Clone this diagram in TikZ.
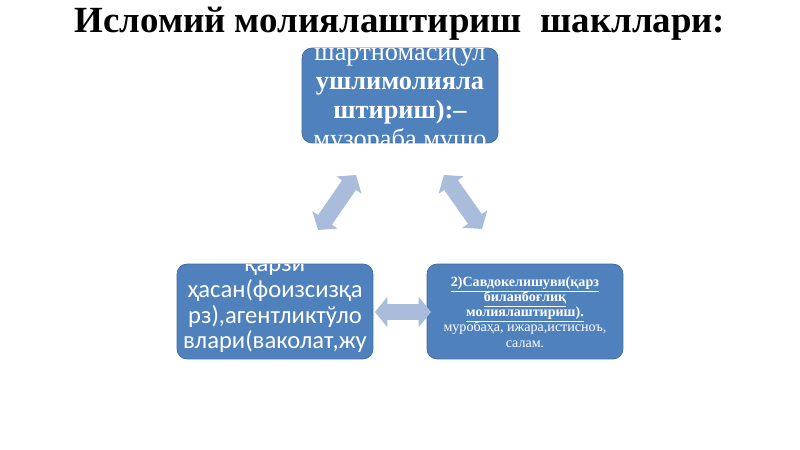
\documentclass[tikz,border=0pt]{standalone}
\usepackage{fontspec}
\setmainfont{Liberation Serif}
\newfontfamily\calibri{Carlito}
\usepackage{tikz}
\usetikzlibrary{arrows.meta,positioning}
\definecolor{kasten}{HTML}{4F81BD}
\definecolor{kastenrand}{HTML}{41699A}
\definecolor{pfeilfarbe}{HTML}{A9BCDC}

\begin{document}
\begin{tikzpicture}[x=0.02cm,y=-0.02cm,
    kastenstil/.style={draw=kastenrand,fill=kasten,rounded corners=0.2cm,
      minimum width=3.92cm,minimum height=1.9cm,inner sep=0pt},
    zeile/.style={text=white,anchor=base,inner sep=0pt},
    pfeil/.style={pfeilfarbe,line width=9.6pt,
      {Triangle[width=17pt,length=7pt]}-{Triangle[width=17pt,length=7pt]}}]
    \useasboundingbox (0,0) rectangle (800,449);

    % Ueberschrift
    \node[anchor=base,font=\fontsize{21}{24}\selectfont\bfseries] (titel) at (400,33)
      {Исломий молиялаштириш\ \ шакллари:};

    % Kaesten
    \node[kastenstil] (oben) at (400,95.5) {};
    \node[kastenstil] (links) at (275,311.5) {};
    \node[kastenstil] (rechts) at (525,311.5) {};

    % Text oben (laeuft ueber den Kasten hinaus)
    \begin{scope}
      \clip[rounded corners=0.2cm] (oben.south west) rectangle (oben.north east);
      \node[zeile,font=\fontsize{15}{16}\selectfont] (o1) at (400,61) {шартномаси(ул};
      \node[zeile,font=\fontsize{15}{16}\selectfont\bfseries] (o2) at (400,90) {ушлимолияла};
      \node[zeile,font=\fontsize{15}{16}\selectfont\bfseries] (o3) at (400,119) {штириш):–};
      \node[zeile,font=\fontsize{15}{16}\selectfont] (o4) at (400,148) {музораба,мушо};
    \end{scope}

    % Text links
    \begin{scope}
      \clip[rounded corners=0.2cm] (links.south west) rectangle (links.north east);
      \node[zeile,font=\calibri\fontsize{14}{15}\selectfont] (l1) at (275,271) {қарзи};
      \node[zeile,font=\calibri\fontsize{14}{15}\selectfont] (l2) at (275,297) {ҳасан(фоизсизқа};
      \node[zeile,font=\calibri\fontsize{14}{15}\selectfont] (l3) at (275,323) {рз),агентликтўло};
      \node[zeile,font=\calibri\fontsize{14}{15}\selectfont] (l4) at (275,348) {влари(ваколат,жу};
    \end{scope}

    % Text rechts
    \node[zeile,font=\fontsize{8}{9}\selectfont\bfseries] (r1) at (525,286) {\underline{2)Савдокелишуви(қарз}};
    \node[zeile,font=\fontsize{8}{9}\selectfont\bfseries] (r2) at (525,301) {\underline{биланбоғлиқ}};
    \node[zeile,font=\fontsize{8}{9}\selectfont\bfseries] (r3) at (525,316) {\underline{молиялаштириш).}};
    \node[zeile,font=\fontsize{8}{9}\selectfont] (r4) at (525,331) {муробаҳа, ижара,истисноъ,};
    \node[zeile,font=\fontsize{8}{9}\selectfont] (r5) at (525,347) {салам.};

    % Pfeile
    \coordinate (p1) at (318,230);
    \coordinate (p2) at (356,175);
    \coordinate (p3) at (444,175);
    \coordinate (p4) at (482,229);
    \coordinate (p5) at (375,312);
    \coordinate (p6) at (431,312);
    \draw[pfeil] (p1) -- (p2);
    \draw[pfeil] (p3) -- (p4);
    \draw[pfeil] (p5) -- (p6);
\end{tikzpicture}
\end{document}
